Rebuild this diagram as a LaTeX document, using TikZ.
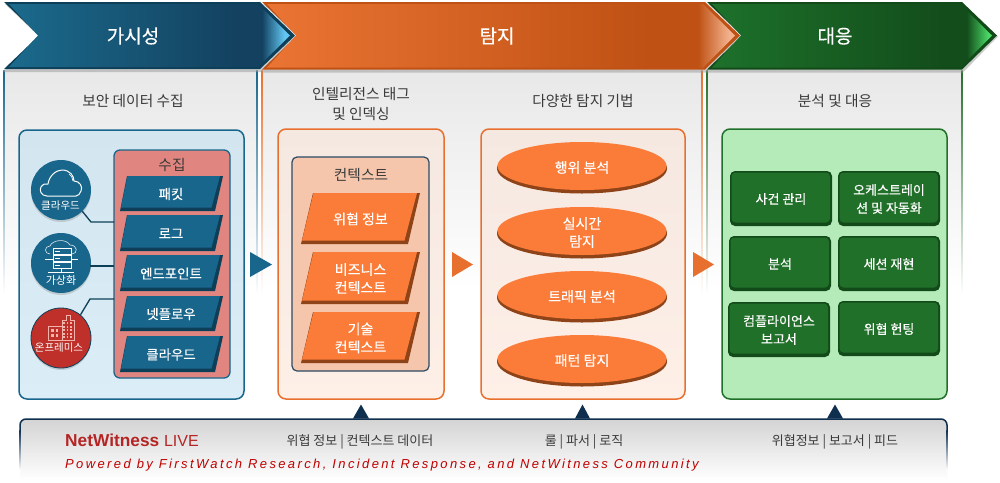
\documentclass[tikz,border=0pt]{standalone}
\usepackage{fontspec}
\setmainfont{Noto Sans CJK KR}
\newfontfamily\whitef[FakeBold=0.3]{Noto Sans CJK KR}
\newfontfamily\latinf{Liberation Sans}
\usetikzlibrary{shapes.geometric}
\definecolor{bluemain}{HTML}{19668C}
\definecolor{bluedark}{HTML}{0E3F58}
\definecolor{oramain}{HTML}{FB7B38}
\definecolor{oradark}{HTML}{8E4418}
\definecolor{oraline}{HTML}{E8702F}
\definecolor{grnmain}{HTML}{217029}
\definecolor{grndark}{HTML}{124A1A}
\definecolor{navyline}{HTML}{0F2F4F}
\definecolor{txtdark}{HTML}{3A3A3A}
\definecolor{redmain}{HTML}{BE3029}
\definecolor{bA}{HTML}{1B6A8C}\definecolor{bB}{HTML}{13415F}\definecolor{bC}{HTML}{62C6F2}
\definecolor{oA}{HTML}{EA7433}\definecolor{oB}{HTML}{BF5114}\definecolor{oC}{HTML}{F2B08C}
\definecolor{gA}{HTML}{1D712B}\definecolor{gB}{HTML}{134D1B}\definecolor{gC}{HTML}{4AD865}
\definecolor{boxblueT}{HTML}{D3E6EF}\definecolor{boxblueB}{HTML}{DBEEF8}
\definecolor{salmon}{HTML}{E0857F}
\definecolor{boxoraT}{HTML}{F5E8E1}\definecolor{boxoraB}{HTML}{FEF0E7}
\definecolor{ctxfill}{HTML}{F6C6AC}\definecolor{ctxline}{HTML}{2A4A66}
\definecolor{boxgrn}{HTML}{B5EAB9}
\definecolor{bldg}{HTML}{F0B4AA}
\definecolor{nwred}{HTML}{B52525}\definecolor{pwred}{HTML}{C00000}
\pgfdeclarehorizontalshading{chevblue}{100bp}{color(0bp)=(bA); color(25bp)=(bA); color(66bp)=(bB); color(70bp)=(bB); color(74bp)=(bC); color(100bp)=(bC)}
\pgfdeclarehorizontalshading{chevora}{100bp}{color(0bp)=(oA); color(25bp)=(oA); color(66bp)=(oB); color(71bp)=(oB); color(74.3bp)=(oC); color(100bp)=(oC)}
\pgfdeclarehorizontalshading{chevgrn}{100bp}{color(0bp)=(gA); color(25bp)=(gA); color(66bp)=(gB); color(70.5bp)=(gB); color(74.3bp)=(gC); color(100bp)=(gC)}
\tikzset{
  headtxt/.style={text=white,yshift=-1pt,font=\whitef\fontsize{19}{22}\selectfont},
  subtxt/.style={text=txtdark,align=center,yshift=-1.5pt,font=\fontsize{14.7}{20}\selectfont},
  itemtxt/.style={text=white,align=center,yshift=-1.5pt,font=\whitef\fontsize{13}{18}\selectfont},
  blueitem/.style={itemtxt,font=\whitef\fontsize{13.4}{18}\selectfont},
  oraitem/.style={itemtxt,font=\whitef\fontsize{14}{18}\selectfont},
  smalltxt/.style={text=white,font=\fontsize{10.5}{12}\selectfont},
  feedtxt/.style={text=txtdark,yshift=-1.5pt,font=\fontsize{13}{16}\selectfont},
  conn/.style={draw=bluedark,line width=1.3pt},
  outerbox/.style={rounded corners=8pt,line width=1.5pt},
  topic/.style={circle,minimum size=60pt,inner sep=0pt},
  btnbox/.style={rounded corners=5pt,fill=grndark},
  icon/.style={draw=white,line width=0.8pt},
  tri/.style={fill=navyline},
}
% name, top, bottom, fill, dark, text style, text
\newcommand{\slantbox}[7]{
  \fill[#5] (\sTL,#2) -- (\sTR,#2) -- (\sBR,#3) -- (\sBL,#3) -- cycle;
  \fill[#4] (\sTL+0.5,#2) -- (\sTR-3,#2) -- (\sBR-3.5,#3-3.5) -- (\sBL+1,#3-3.5) -- cycle;
  \node[#6] (#1) at ({(\sTL+\sBR)/2},{(#2+#3)/2-1}) {#7};
}
\newcommand{\ovalitem}[3]{
  \node[ellipse,fill=oradark,minimum width=170pt,minimum height=50pt,inner sep=0pt] at (582,#2+1.5) {};
  \node[ellipse,fill=oramain,minimum width=169pt,minimum height=48pt,inner sep=0pt,oraitem,yshift=1.5pt] (#1) at (582,#2-1) {};
  \node[oraitem] at (#1.center) {#3};
}
\newcommand{\greenbtn}[6]{
  \fill[btnbox] (#2,#3) rectangle (#4,#5);
  \fill[grnmain,rounded corners=4pt] (#2+1.5,#3+1.5) rectangle (#4-2,#5-3.5);
  \node[itemtxt] (#1) at ({(#2+#4)/2},{(#3+#5)/2-1}) {#6};
}
\newcommand{\chevron}[8]{%
  \fill[black!40,opacity=.5] (#1+1,#7+2) -- (#2+1,#7+2) -- (#3+1,35.5+1) -- (#2+1,#8+3) -- (#1-1,#8+3) -- (#4,35.5+1) -- cycle;
  \fill[#6] (#1,#7) -- (#2,#7) -- (#3,35.5) -- (#2,#8) -- (#1,#8) -- (#4,35.5) -- cycle;
  \shade[shading=#5] (#1+5,#7+2) -- (#2-2,#7+2) -- (#3-5,35.5) -- (#2-2,#8-2) -- (#1+5,#8-2) -- (#4-1,35.5) -- cycle;
}
\begin{document}
\begin{tikzpicture}[x=1pt,y=-1pt]
\useasboundingbox (0,0) rectangle (1000,482);
\fill[white] (0,0) rectangle (1000,482);

\shade[top color=black!9,bottom color=white] (4,70) rectangle (257,290);
\shade[top color=black!9,bottom color=white] (262,70) rectangle (702,290);
\shade[top color=black!9,bottom color=white] (707,70) rectangle (962,290);
\shade[top color=bluemain,bottom color=white] (3.4,70) rectangle (4.6,295);
\shade[top color=bluemain,bottom color=white] (256.4,70) rectangle (257.6,295);
\shade[top color=oraline,bottom color=white] (261.4,70) rectangle (262.6,295);
\shade[top color=oraline,bottom color=white] (701.4,70) rectangle (702.6,295);
\shade[top color=grnmain,bottom color=white] (706.4,70) rectangle (707.6,295);
\shade[top color=grnmain,bottom color=white] (961.4,70) rectangle (962.6,295);

\chevron{4}{260}{295}{39}{chevblue}{bluedark}{2}{69}
\chevron{262}{705}{740}{297}{chevora}{oB}{2}{69.5}
\chevron{707}{962}{997}{742}{chevgrn}{grndark}{2}{69.5}
\node[headtxt] (hvis) at (133,35) {가시성};
\node[headtxt] (hdet) at (497,35) {탐지};
\node[headtxt] (hres) at (835,35) {대응};

\node[subtxt] (s1) at (133,99) {보안 데이터 수집};
\node[subtxt] (s2) at (361,102) {인텔리전스 태그\\및 인덱싱};
\node[subtxt] (s3) at (583,99) {다양한 탐지 기법};
\node[subtxt] (s4) at (835,99) {분석 및 대응};

\shade[outerbox,draw=bluemain,top color=boxblueT,bottom color=boxblueB] (19,130) rectangle (244,399);
\draw[rounded corners=6pt,line width=1.3pt,draw=bluemain,fill=salmon] (114,150) rectangle (230,378);
\coordinate (collectL) at (114,264);
\node[subtxt] (collect) at (172,163) {수집};
\def\sTL{127}\def\sTR{223}\def\sBL{120}\def\sBR{215}
\slantbox{i1}{176}{211}{bluemain}{bluedark}{blueitem}{패킷}
\slantbox{i2}{215}{251}{bluemain}{bluedark}{blueitem}{로그}
\slantbox{i3}{255}{291}{bluemain}{bluedark}{blueitem}{엔드포인트}
\slantbox{i4}{296}{331}{bluemain}{bluedark}{blueitem}{넷플로우}
\slantbox{i5}{336}{372}{bluemain}{bluedark}{blueitem}{클라우드}

\fill[black!50,opacity=.3] (61,192) circle (30);
\fill[black!50,opacity=.3] (61,265) circle (30);
\fill[black!50,opacity=.3] (61,340) circle (30);
\node[topic,fill=bluemain] (c1) at (61,190) {};
\node[topic,fill=bluemain] (c2) at (61,263) {};
\node[topic,fill=redmain,draw=bluedark,line width=0.8pt] (c3) at (61,338) {};
\coordinate (e1) at (91,222);
\coordinate (e3) at (90,299);
\coordinate (e2) at (90,266);
\draw[conn] (c1.-45) -- (e1) -- (e1 -| collectL);
\draw[conn] (e2) -- (e2 -| collectL);
\draw[conn] (c3.50) -- (e3) -- (e3 -| collectL);
\draw[icon,line width=1pt,line join=round] (47,196) .. controls (41,196) and (39,190) .. (41,187) .. controls (43,184) and (46,183) .. (48,184) .. controls (49,176) and (56,170) .. (62,170) .. controls (70,170) and (74,176) .. (74,181) .. controls (80,181) and (83,187) .. (81,191) .. controls (80,194) and (78,196) .. (76,196) -- cycle;
\draw[icon,line width=0.7pt] (69,174) .. controls (71,175) and (73,178) .. (73,181);
\node[smalltxt] (t1) at (60.5,206) {클라우드};
\draw[icon,line width=0.6pt,opacity=.85] (50,254) .. controls (44,254) and (44,246) .. (50,246) .. controls (52,240) and (66,238) .. (70,245) .. controls (78,245) and (78,254) .. (72,254);
\foreach \yy in {248,255,262}{\draw[icon,line width=0.7pt,fill=bluemain] (53,\yy) rectangle (71,\yy+6.5);
  \fill[white] (55,\yy+2.5) rectangle (60,\yy+4);}
\draw[icon,line width=0.7pt] (61,268) -- (61,272) (48,272) -- (74,272) (45,259) -- (53,259) (71,259) -- (78,259);
\node[smalltxt,font=\fontsize{11}{12}\selectfont] (t2) at (61,280) {가상화};
\draw[icon,draw=bldg,line width=0.8pt] (62,340) -- (62,320) -- (66,320) -- (66,315) -- (70,315) -- (70,320) -- (74,320) -- (74,340) -- cycle;
\draw[icon,draw=bldg,line width=0.8pt] (62,326) -- (48,326) -- (48,340) -- (62,340);
\foreach \xx in {64,67.5,71}\foreach \yy in {322,325.5,329,332.5,336}{\fill[bldg] (\xx-1,\yy) rectangle (\xx+.8,\yy+2);}
\foreach \xx in {51,55.5}\foreach \yy in {329,334}{\fill[bldg] (\xx,\yy) rectangle (\xx+2.5,\yy+3);}
\node[smalltxt] (t3) at (59,348) {온프레미스};

\fill[bluemain] (250,252) -- (272,264.5) -- (250,277) -- cycle;
\fill[oraline] (452,252) -- (473,264.5) -- (452,277) -- cycle;
\fill[oraline] (693,252) -- (714,264.5) -- (693,277) -- cycle;

\shade[outerbox,draw=oraline,top color=boxoraT,bottom color=boxoraB] (278,129) rectangle (444,399);
\draw[rounded corners=5pt,line width=1.2pt,draw=ctxline,fill=ctxfill] (292,157) rectangle (429,371);
\node[subtxt] (ctx) at (361,173) {컨텍스트};
\def\sTL{313}\def\sTR{420}\def\sBL{301}\def\sBR{408}
\slantbox{o1}{193}{244}{oramain}{oradark}{oraitem}{위협 정보}
\slantbox{o2}{252}{304}{oramain}{oradark}{oraitem}{비즈니스\\컨텍스트}
\slantbox{o3}{312}{363}{oramain}{oradark}{oraitem}{기술\\컨텍스트}

\shade[outerbox,draw=oraline,top color=boxoraT,bottom color=boxoraB] (481,129) rectangle (685,399);
\ovalitem{d1}{167}{행위 분석}
\ovalitem{d2}{232}{실시간\\탐지}
\ovalitem{d3}{296}{트래픽 분석}
\ovalitem{d4}{360}{패턴 탐지}

\draw[outerbox,draw=grnmain,fill=boxgrn] (722,129) rectangle (947,399);
\greenbtn{g1}{730}{171}{832}{226}{사건 관리}
\greenbtn{g2}{838}{171}{940}{226}{오케스트레이\\션 및 자동화}
\greenbtn{g3}{729}{236}{831}{291}{분석}
\greenbtn{g4}{838}{236}{940}{291}{세션 재현}
\greenbtn{g5}{728}{302}{830}{357}{컴플라이언스\\보고서}
\greenbtn{g6}{838}{301}{940}{356}{위협 헌팅}

\shade[top color=black!17,bottom color=white] (20,426) -- (20,480) -- (947,480) -- (947,426) .. controls (947,421) and (945,419) .. (941,419) -- (26,419) .. controls (22,419) and (20,421) .. (20,426) -- cycle;
\draw[navyline,line width=1.5pt,rounded corners=6pt] (20,432) -- (20,419) -- (947,419) -- (947,432);
\shade[top color=navyline,bottom color=white] (19.3,430) rectangle (20.7,470);
\shade[top color=navyline,bottom color=white] (946.3,430) rectangle (947.7,470);
\fill[tri] (353,418.5) -- (361,404.5) -- (369,418.5) -- cycle;
\fill[tri] (575,418.5) -- (582.5,404.5) -- (590,418.5) -- cycle;
\fill[tri] (827,418.5) -- (835,404.5) -- (843,418.5) -- cycle;
\node[anchor=base west,inner sep=0pt,text=nwred] (nw) at (65,446.5) {\latinf\fontsize{17.3}{20}\selectfont\textbf{NetWitness} \fontsize{16}{20}\selectfont LIVE};
\node[anchor=base west,inner sep=0pt,text=pwred] (pw) at (65,468) {\latinf\itshape\addfontfeature{LetterSpace=18.3}\fontsize{13}{16}\selectfont Powered by FirstWatch Research, Incident Response, and NetWitness Community};
\node[feedtxt] (f1) at (360,440) {위협 정보 | 컨텍스트 데이터};
\node[feedtxt] (f2) at (584,440) {룰 | 파서 | 로직};
\node[feedtxt] (f3) at (835,440) {위협정보 | 보고서 | 피드};
\end{tikzpicture}
\end{document}
